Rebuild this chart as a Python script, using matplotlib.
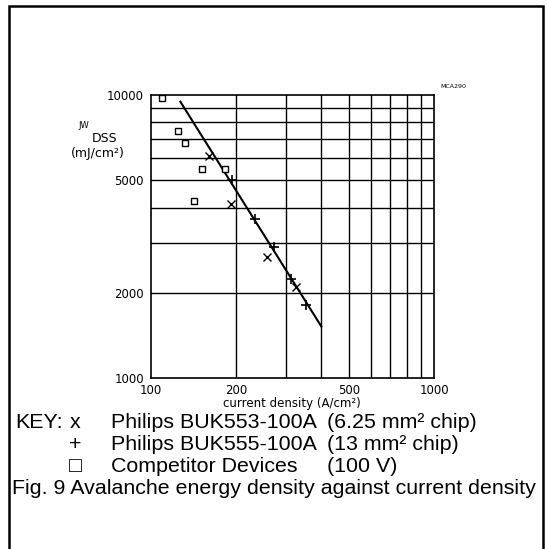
import matplotlib
matplotlib.use('Agg')
import matplotlib.pyplot as plt
from matplotlib.patches import Rectangle
from matplotlib.ticker import NullLocator

W, H = 547, 549

# data (current density A/cm2, energy density mJ/cm2)
comp_x = [109, 125, 132, 152, 183, 142]
comp_y = [9730, 7480, 6780, 5460, 5480, 4230]
buk553_x = [160, 192, 256, 325]
buk553_y = [6090, 4120, 2685, 2092]
buk555_x = [193, 234, 272, 312, 353]
buk555_y = [5000, 3640, 2896, 2238, 1811]
fit_x = [127, 400]
fit_y = [9470, 1520]

x_ticks = [100, 200, 500, 1000]
y_ticks = [1000, 2000, 5000, 10000]
x_grid = [200, 300, 400, 500, 600, 700, 800, 900]
y_grid = [2000, 3000, 4000, 5000, 6000, 7000, 8000, 9000]

key_lines = [
    ("x", "Philips BUK553-100A", "(6.25 mm\u00b2 chip)"),
    ("+", "Philips BUK555-100A", "(13 mm\u00b2 chip)"),
    ("\u25a1", "Competitor Devices", "(100 V)"),
]
caption = "Fig. 9 Avalanche energy density against current density"

plt.rcParams['font.family'] = ['Liberation Sans', 'DejaVu Sans']

fig = plt.figure(figsize=(W / 100, H / 100), dpi=100)


def fx(px):
    return px / W


def fy(py):
    return 1 - py / H


# outer frame
fig.add_artist(Rectangle((fx(9), fy(560)), fx(543) - fx(9), fy(6) - fy(560),
                         transform=fig.transFigure, fill=False,
                         edgecolor='black', linewidth=1.8))

ax = fig.add_axes([fx(151), fy(378), fx(434) - fx(151), fy(95) - fy(378)])
ax.set_xscale('log')
ax.set_yscale('log')
ax.set_xlim(100, 1000)
ax.set_ylim(1000, 10000)

for v in x_grid:
    ax.axvline(v, color='black', linewidth=1.0)
for v in y_grid:
    ax.axhline(v, color='black', linewidth=1.0)
for s in ax.spines.values():
    s.set_linewidth(1.2)

ax.set_xticks(x_ticks)
ax.set_xticklabels([str(t) for t in x_ticks])
ax.set_yticks(y_ticks)
ax.set_yticklabels([str(t) for t in y_ticks])
ax.xaxis.set_minor_locator(NullLocator())
ax.yaxis.set_minor_locator(NullLocator())
ax.tick_params(axis='y', length=0, pad=5)
ax.tick_params(axis='x', length=0, pad=4)
for lab in ax.get_xticklabels() + ax.get_yticklabels():
    lab.set_family('DejaVu Sans')
    lab.set_fontsize(8.5)

ax.plot(fit_x, fit_y, color='black', linewidth=1.5)
ax.plot(comp_x, comp_y, linestyle='none', marker='s', markersize=4.5,
        markerfacecolor='white', markeredgecolor='black', markeredgewidth=1.0)
ax.plot(buk553_x, buk553_y, linestyle='none', marker='x', markersize=6,
        color='black', markeredgewidth=1.0)
ax.plot(buk555_x, buk555_y, linestyle='none', marker='+', markersize=7,
        color='black', markeredgewidth=1.2)

# axis titles
fig.text(fx(292), fy(403), "current density (A/cm\u00b2)", ha='center', va='center',
         family='DejaVu Sans', fontsize=8.5)
fig.text(fx(84), fy(126), "JW", ha='center', va='center', family='DejaVu Sans', fontsize=6)
fig.text(fx(105), fy(138), "DSS", ha='center', va='center', family='DejaVu Sans', fontsize=9)
fig.text(fx(98), fy(153), "(mJ/cm\u00b2)", ha='center', va='center', family='DejaVu Sans', fontsize=9)
fig.text(fx(453), fy(86), "MCA290", ha='center', va='center', family='DejaVu Sans', fontsize=4.5)

# key
rows = [422, 445, 467]
fig.text(fx(15), fy(rows[0]), "KEY:", ha='left', va='center', fontsize=15.4)
for (sym, name, note), r in zip(key_lines, rows):
    fig.text(fx(75), fy(r), sym, ha='center', va='center', fontsize=15.4)
    fig.text(fx(111), fy(r), name, ha='left', va='center', fontsize=15.4)
    fig.text(fx(327), fy(r), note, ha='left', va='center', fontsize=15.4)
fig.text(fx(12), fy(489), caption, ha='left', va='center', fontsize=15.4)

fig.savefig('out.png', dpi=100)
